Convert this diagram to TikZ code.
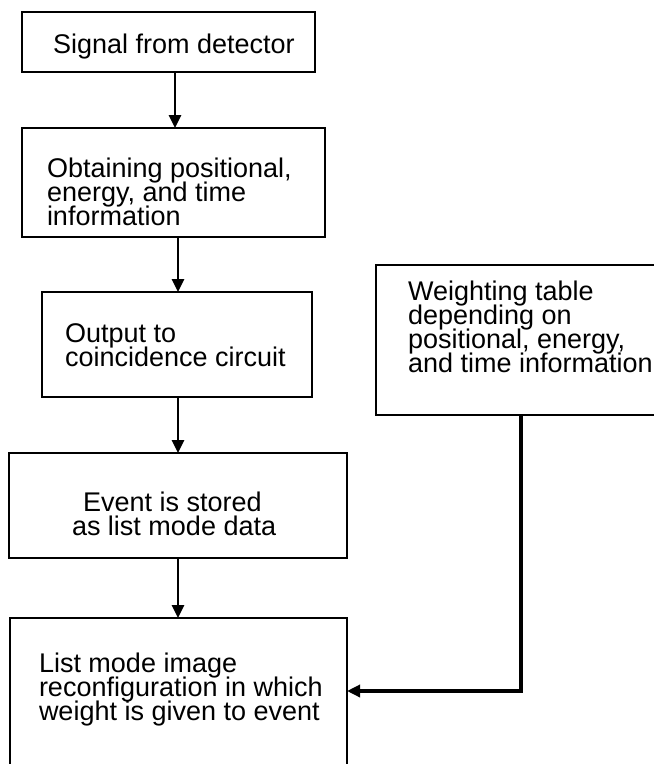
\documentclass[tikz,border=0pt]{standalone}
\usepackage{fontspec}
\setmainfont{Liberation Sans}
\usetikzlibrary{arrows.meta}
\newcommand\boxtextfont{\fontsize{27}{24}\selectfont\setlength{\lineskiplimit}{-30pt}}
\begin{document}
\begin{tikzpicture}[x=1pt,y=-1pt,
  boxnode/.style={draw,line width=1.8pt,inner sep=0pt,outer sep=0pt,anchor=north west},
  txt/.style={anchor=base west,inner sep=0pt,outer sep=0pt,align=left,font=\boxtextfont},
  arr/.style={line width=2.8pt,-{Triangle[length=13pt,width=12pt]}},
  feed/.style={line width=3.4pt,-{Triangle[length=13pt,width=12pt]}}]
\useasboundingbox (0,0) rectangle (654,764);
% boxes
\node[boxnode,minimum width=293pt,minimum height=60pt] (b1) at (22,12) {};
\node[boxnode,minimum width=303pt,minimum height=109pt] (b2) at (22,128) {};
\node[boxnode,minimum width=270pt,minimum height=105pt] (b3) at (42,292) {};
\node[boxnode,minimum width=338pt,minimum height=105pt] (b4) at (9,453) {};
\node[boxnode,minimum width=337pt,minimum height=170pt] (b5) at (10,618) {};
\node[boxnode,minimum width=300pt,minimum height=150pt] (b6) at (376,265) {};
% texts (anchored at the baseline of their last line)
\node[txt] (t1) at (53,53) {Signal from detector};
\node[txt] (t2) at (47,225) {Obtaining positional,\\energy, and time\\information};
\node[txt] (t3) at (65,366) {Output to\\coincidence circuit};
\node[txt] (t4) at (72,535) {\hspace*{11pt}Event is stored\\as list mode data};
\node[txt] (t5) at (39,720) {List mode image\\reconfiguration in which\\weight is given to event};
\node[txt] (t6) at (408,372) {Weighting table\\depending on\\positional, energy,\\and time information};
% connector columns
\coordinate (c1) at (175,0);
\coordinate (c2) at (178,0);
\coordinate (c3) at (521,0);
\coordinate (fy) at (0,691);
\draw[arr] (c1 |- b1.south) -- (c1 |- b2.north);
\draw[arr] (c2 |- b2.south) -- (c2 |- b3.north);
\draw[arr] (c2 |- b3.south) -- (c2 |- b4.north);
\draw[arr] (c2 |- b4.south) -- (c2 |- b5.north);
\draw[feed] (c3 |- b6.south) -- (c3 |- fy) -- (b5.east |- fy);
\end{tikzpicture}
\end{document}
